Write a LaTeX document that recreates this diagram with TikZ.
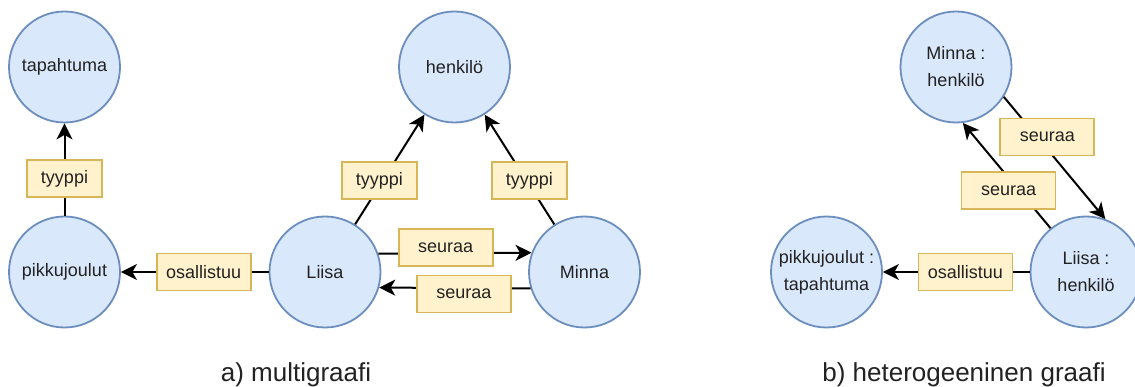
\documentclass[tikz,border=0pt]{standalone}
\usepackage{fontspec}
\setmainfont{Liberation Sans}
\usetikzlibrary{arrows.meta}

\definecolor{circfill}{HTML}{DAE8FC}
\definecolor{circline}{HTML}{6C8EBF}
\definecolor{boxfill}{HTML}{FFF2CC}
\definecolor{boxline}{HTML}{D6B656}
\definecolor{txt}{HTML}{222222}

\tikzset{
  entity/.style={circle, draw=circline, fill=circfill, line width=1.8pt,
    minimum size=111pt, inner sep=0pt, align=center, text=txt,
    font=\fontsize{18}{27}\selectfont},
  rel/.style={rectangle, draw=boxline, fill=boxfill, line width=1.8pt,
    minimum height=37pt, inner sep=0pt, text=txt,
    font=\fontsize{18}{22}\selectfont},
  tbox/.style={rel, minimum width=75pt},
  sbox/.style={rel, minimum width=94pt},
  edge/.style={draw=black, line width=2pt,
    -{Stealth[length=16pt,width=16pt,inset=4.5pt]}},
  caption/.style={anchor=base, text=txt, inner sep=0pt,
    font=\fontsize{26}{30}\selectfont}
}

\begin{document}
\begin{tikzpicture}[x=1pt,y=-1pt]
  \fill[white] (0,0) rectangle (1135,387);
  \useasboundingbox (0,0) rectangle (1135,387);

  % a) multigraph
  \node[entity] (tap)   at (64.5,67)  {tapahtuma};
  \node[entity] (pik)   at (64.5,272) {pikkujoulut};
  \node[entity] (hen)   at (454.5,67) {henkilö};
  \node[entity] (liisa) at (325,272)  {Liisa};
  \node[entity] (minna) at (584.5,272){Minna};

  \draw[edge] (pik) -- node[tbox,pos=0.40] {tyyppi} (tap);
  \draw[edge] (liisa) -- node[sbox,pos=0.44] {osallistuu} (pik);
  \draw[edge] (liisa) -- node[tbox,pos=0.40,xshift=-3.5pt] {tyyppi} (hen);
  \draw[edge] (minna) -- node[tbox,pos=0.40,xshift=3pt] {tyyppi} (hen);
  \draw[edge] (liisa.19.8) -- node[sbox,pos=0.44,yshift=5.5pt] {seuraa} (minna.160.2);
  \draw[edge] (minna.-163.4) -- node[sbox,pos=0.44,yshift=-6pt] {seuraa} (liisa.-16.6);

  \node[caption] (capa) at (296,381.5) {a) multigraafi};

  % b) heterogeneous graph
  \node[entity] (mh) at (956,67)    {Minna :\\henkilö};
  \node[entity] (lh) at (1086,272)  {Liisa :\\henkilö};
  \node[entity] (pt) at (826.5,272) {pikkujoulut :\\tapahtuma};

  \draw[edge] (lh) -- node[sbox,pos=0.437] {osallistuu} (pt);
  \draw[edge] (mh.-32.5) -- node[sbox,pos=0.37,xshift=6pt,yshift=5pt] {seuraa} (lh.70.6);
  \draw[edge] (lh.129.3) -- node[sbox,pos=0.41,xshift=-6pt,yshift=-5.4pt] {seuraa} (mh.-83.2);

  \node[caption] (capb) at (964,381.5) {b) heterogeeninen graafi};
\end{tikzpicture}
\end{document}
